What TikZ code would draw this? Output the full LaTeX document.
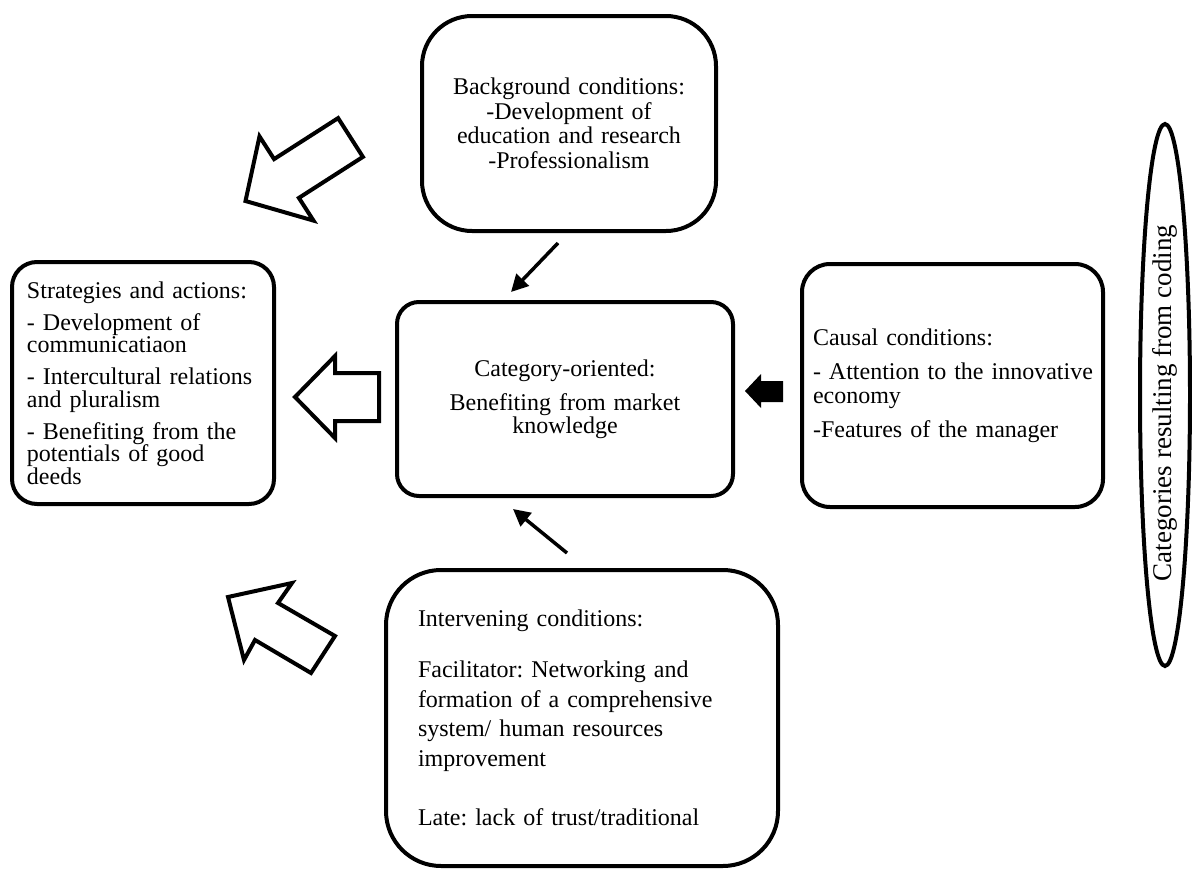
\documentclass[tikz,border=0pt]{standalone}
\usepackage{fontspec}
\setmainfont{Liberation Serif}
\usetikzlibrary{arrows.meta,shapes.geometric}
\frenchspacing
\hyphenpenalty=10000
\exhyphenpenalty=10000
\begin{document}
\begin{tikzpicture}[x=1pt,y=-1pt,
  box/.style={draw, line width=4pt, font=\fontsize{24}{22.5}\selectfont},
  thinarrow/.style={line width=3.5pt, -{Triangle[length=17pt,width=17pt]}},
  hollowarrow/.style={draw, line width=4pt, fill=white, line join=miter},
  solidarrow/.style={fill=black}]
\useasboundingbox (0,0) rectangle (1192,870);

% boxes
\node[box, rounded corners=25pt, minimum width=262pt, minimum height=242pt,
      text width=232pt, inner xsep=15pt, align=left] (strat) at (143,383)
  {Strategies and actions:\\[9.5pt]
   - Development of\\ communicatiaon\\[9.5pt]
   - Intercultural relations\\ and pluralism\\[9.5pt]
   - Benefiting from the\\ potentials of good\\ deeds};

\node[box, rounded corners=50pt, minimum width=294pt, minimum height=215pt,
      text width=280pt, inner xsep=7pt, align=center,
      font=\fontsize{24}{24.5}\selectfont] (bg) at (569,123.5)
  {Background conditions:\\ -Development of\\ education and research\\ -Professionalism};

\node[box, rounded corners=22pt, minimum width=336pt, minimum height=194pt,
      text width=310pt, inner xsep=13pt, align=center,
      font=\fontsize{24}{23}\selectfont] (center) at (565,399)
  {Category-oriented:\\[11pt] Benefiting from market\\ knowledge};

\node[box, rounded corners=28pt, minimum width=301pt, minimum height=243pt,
      text width=279pt, inner xsep=11pt, align=left,
      font=\fontsize{24}{24}\selectfont] (causal) at (952.5,385.5)
  {Causal conditions:\\[10pt]
   -~Attention~to~the~innovative\\ economy\\[10pt]
   -Features of the manager};

\node[box, rounded corners=55pt, minimum width=392pt, minimum height=296pt,
      text width=328pt, inner xsep=32pt, align=left,
      font=\fontsize{24}{29.5}\selectfont] (interv) at (582,718)
  {Intervening conditions:\\[22pt]
   Facilitator: Networking and\\ formation of a comprehensive\\ system/ human resources\\ improvement\\[30pt]
   Late: lack of trust/traditional};

\node[draw, line width=4pt, ellipse, rotate=90, minimum width=542pt, minimum height=50pt,
      inner sep=0pt, font=\fontsize{27}{27}\selectfont] (coding) at (1165,395)
  {Categories resulting from coding\hspace*{16pt}};

% thin arrows into the central box
\coordinate (bgtail) at (558,243);
\coordinate (bghead) at (511,292);
\coordinate (intail) at (567,553);
\coordinate (inhead) at (513,509);
\draw[thinarrow] (bgtail) -- (bghead);
\draw[thinarrow] (intail) -- (inhead);

% solid block arrow from causal box
\path[solidarrow] (745,391) -- (761,374) -- (761,381) -- (783,381) -- (783,402)
  -- (761,402) -- (761,408) -- cycle;

% hollow block arrows towards strategies
\path[hollowarrow] (338.1,118.1) -- (274.1,159.1) -- (259.5,136.4) -- (245.5,201)
  -- (313.5,220.6) -- (298.9,197.9) -- (362.9,156.9) -- cycle;
\path[hollowarrow] (295,397) -- (335,356) -- (335,373) -- (379,373) -- (379,421)
  -- (335,421) -- (335,438) -- cycle;
\path[hollowarrow] (228,597) -- (292,583) -- (278,603) -- (335,636) -- (311,673)
  -- (255,640) -- (244,660) -- cycle;
\end{tikzpicture}
\end{document}
